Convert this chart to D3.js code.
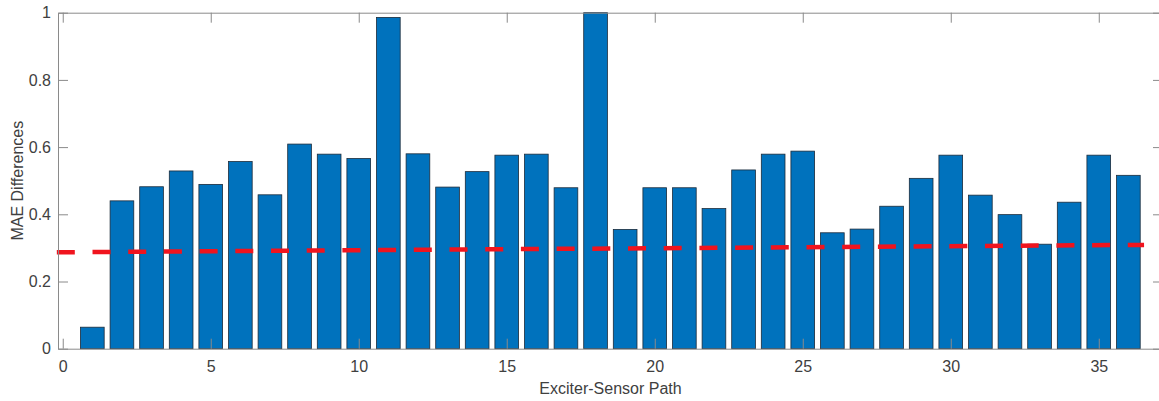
<!DOCTYPE html>
<html>
<head>
<meta charset="utf-8">
<script src="https://cdn.jsdelivr.net/npm/d3@7"></script>
<style>
  body { margin: 0; background: #fff; }
  text { font-family: "Liberation Sans", Arial, sans-serif; }
</style>
</head>
<body>
<div id="chart"></div>
<script>
// bar values, one per exciter-sensor path
var paths = d3.range(1, 37);
var mae = [0.064, 0.44, 0.482, 0.529, 0.489, 0.557, 0.458, 0.609, 0.579, 0.566,
           0.986, 0.580, 0.481, 0.527, 0.576, 0.579, 0.479, 1.0, 0.355, 0.479,
           0.479, 0.417, 0.532, 0.579, 0.588, 0.345, 0.356, 0.424, 0.507, 0.576,
           0.457, 0.399, 0.311, 0.436, 0.576, 0.516];
// red dashed trend line (two end points)
var trendX = [-0.2, 36.53];
var trendY = [0.287, 0.309];
var xTicks = [0, 5, 10, 15, 20, 25, 30, 35];
var yTicks = [0, 0.2, 0.4, 0.6, 0.8, 1];

var width = 1159, height = 401;
var mLeft = 58, mRight = 1163, mTop = 12.7, mBottom = 348.7;

var x = d3.scaleLinear().domain([-0.16, 37.17]).range([mLeft, mRight]);
var y = d3.scaleLinear().domain([0, 1]).range([mBottom, mTop]);

var svg = d3.select("#chart")
  .append("svg")
    .attr("width", width)
    .attr("height", height);

var barW = x(0.8) - x(0);

// bars
svg.append("g")
  .selectAll("rect")
  .data(mae)
  .enter()
  .append("rect")
    .attr("x", function(d, i) { return x(paths[i]) - barW / 2; })
    .attr("y", function(d) { return y(d); })
    .attr("width", barW)
    .attr("height", function(d) { return y(0) - y(d); })
    .attr("fill", "#0072BD")
    .attr("stroke", "#1c2b3a")
    .attr("stroke-width", 0.8);

// dashed line
svg.append("line")
  .attr("x1", x(trendX[0])).attr("y1", y(trendY[0]))
  .attr("x2", x(trendX[1])).attr("y2", y(trendY[1]))
  .attr("stroke", "#f0141e")
  .attr("stroke-width", 4.5)
  .attr("stroke-dasharray", "18,17.7");

var axisColor = "#8a8a8a";
var textColor = "#404040";

// axes (bottom, left, top, right) - MATLAB style box with inner ticks
var xAxis = svg.append("g")
  .attr("transform", "translate(0," + mBottom + ")")
  .call(d3.axisBottom(x).tickValues(xTicks).tickSizeInner(-10).tickSizeOuter(0).tickPadding(12).tickFormat(d3.format("d")));
var xTop = svg.append("g")
  .attr("transform", "translate(0," + mTop + ")")
  .call(d3.axisTop(x).tickValues(xTicks).tickSizeInner(-10).tickSizeOuter(0).tickFormat(""));
var yAxis = svg.append("g")
  .attr("transform", "translate(" + mLeft + ",0)")
  .call(d3.axisLeft(y).tickValues(yTicks).tickSizeInner(-10).tickSizeOuter(0).tickPadding(7).tickFormat(function(d) { return d === 0 || d === 1 ? d : d.toFixed(1); }));
var yRight = svg.append("g")
  .attr("transform", "translate(" + mRight + ",0)")
  .call(d3.axisRight(y).tickValues(yTicks).tickSizeInner(-10).tickSizeOuter(0).tickFormat(""));

[xAxis, xTop, yAxis, yRight].forEach(function(g) {
  g.selectAll("path, line").attr("stroke", axisColor).attr("stroke-width", 1);
  g.selectAll("text").attr("fill", textColor).style("font-size", "16px");
});

// axis labels
svg.append("text")
  .attr("x", (mLeft + mRight) / 2)
  .attr("y", 394)
  .attr("text-anchor", "middle")
  .attr("fill", textColor)
  .style("font-size", "16px")
  .text("Exciter-Sensor Path");

svg.append("text")
  .attr("transform", "translate(23," + ((mTop + mBottom) / 2) + ") rotate(-90)")
  .attr("text-anchor", "middle")
  .attr("fill", textColor)
  .style("font-size", "16px")
  .text("MAE Differences");
</script>
</body>
</html>
